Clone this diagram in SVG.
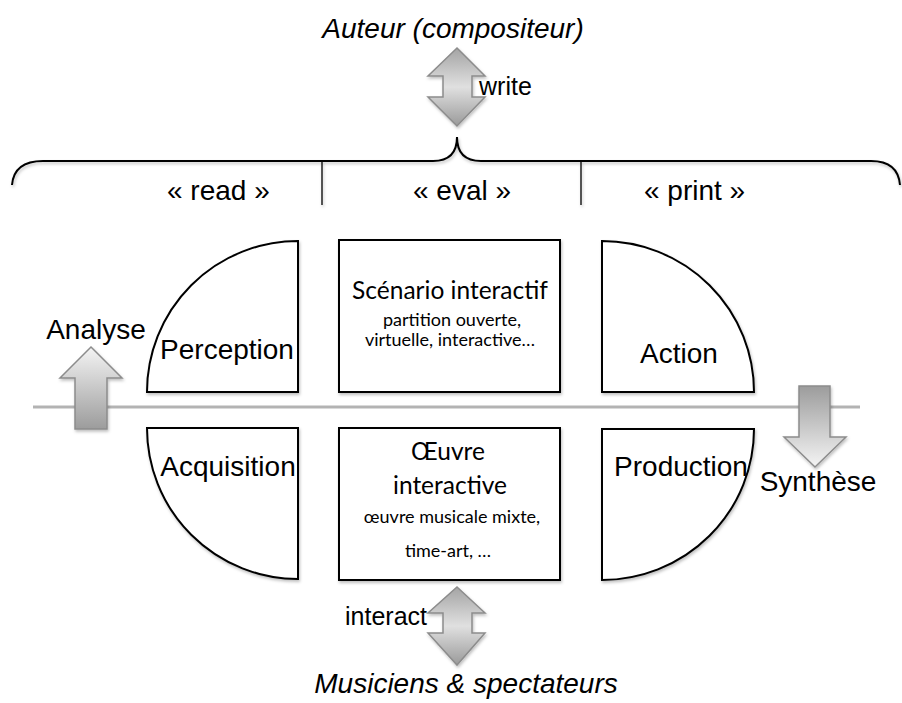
<svg xmlns="http://www.w3.org/2000/svg" width="902" height="703" viewBox="0 0 902 703">
<style>
.lbl{font-family:"Liberation Sans",Arial,sans-serif;font-size:28px;fill:#000}
.it{font-style:italic}
.sm{font-family:"Liberation Sans",Arial,sans-serif;font-size:25px;fill:#000}
.cal{font-family:Lato,"Open Sans",sans-serif;fill:#000;text-anchor:middle}
.big{font-size:24.5px}
.small{font-size:18px}
.shape{fill:#fff;stroke:#000;stroke-width:2}
.arr{stroke:#8c8c8c;stroke-width:1.5}
.brace{fill:none;stroke:#000;stroke-width:2}
</style>
<defs>
<filter id="sh" x="-10%" y="-10%" width="130%" height="130%">
<feDropShadow dx="1" dy="2" stdDeviation="1.5" flood-color="#000" flood-opacity="0.25"/>
</filter>
<linearGradient id="gUp" x1="0" y1="0" x2="0" y2="1">
<stop offset="0" stop-color="#f4f4f4"/><stop offset="1" stop-color="#9c9c9c"/>
</linearGradient>
<linearGradient id="gDown" x1="0" y1="0" x2="0" y2="1">
<stop offset="0" stop-color="#9c9c9c"/><stop offset="1" stop-color="#f4f4f4"/>
</linearGradient>
<linearGradient id="gBoth" x1="0" y1="0" x2="0" y2="1">
<stop offset="0" stop-color="#a4a4a4"/><stop offset="0.5" stop-color="#e0e0e0"/><stop offset="1" stop-color="#9a9a9a"/>
</linearGradient>
</defs>

<g id="connectors">
<line x1="33" y1="407" x2="860" y2="407" stroke="#b3b3b3" stroke-width="3"/>
<g id="brace" filter="url(#sh)">
<path class="brace" d="M12,185 Q14,161 43,161 L433,161 C450,161 457,152 457,137 C457,152 464,161 481,161 L871,161 Q898,161 900,185"/>
<line x1="322" y1="161" x2="322" y2="205" stroke="#000" stroke-width="1.3"/>
<line x1="581" y1="161" x2="581" y2="205" stroke="#000" stroke-width="1.3"/>
</g>
<path id="arrow-write" class="arr" fill="url(#gBoth)" filter="url(#sh)" d="M457,48 L485,76 L472,76 L472,97 L485,97 L457,126 L428,97 L443,97 L443,76 L428,76 Z"/>
<path id="arrow-interact" class="arr" fill="url(#gBoth)" filter="url(#sh)" d="M457,587 L485,613 L472,613 L472,633 L485,633 L457,665 L428,633 L443,633 L443,613 L428,613 Z"/>
<path id="arrow-analyse" class="arr" fill="url(#gUp)" filter="url(#sh)" d="M91,347 L122,378 L107,378 L107,429 L75,429 L75,378 L60,378 Z"/>
<path id="arrow-synthese" class="arr" fill="url(#gDown)" filter="url(#sh)" d="M799,386 L830,386 L830,437 L846,437 L815,467 L784,437 L799,437 Z"/>
</g>

<g id="auteur"><text class="lbl it" x="453" y="38" text-anchor="middle">Auteur (compositeur)</text></g>
<g id="write-label"><text class="sm" x="479" y="95">write</text></g>
<g id="read-label"><text class="lbl" x="167" y="200">« read »</text></g>
<g id="eval-label"><text class="lbl" x="413" y="200">« eval »</text></g>
<g id="print-label"><text class="lbl" x="644" y="200">« print »</text></g>

<g id="perception">
<path class="shape" filter="url(#sh)" d="M147,392 A151,151 0 0 1 298,241 L298,392 Z"/>
<text class="lbl" x="227" y="359" text-anchor="middle">Perception</text>
</g>
<g id="acquisition">
<path class="shape" filter="url(#sh)" d="M147,428 L298,428 L298,579 A151,151 0 0 1 147,428 Z"/>
<text class="lbl" x="228" y="476" text-anchor="middle">Acquisition</text>
</g>
<g id="action">
<path class="shape" filter="url(#sh)" d="M602,241 A152,151 0 0 1 754,392 L602,392 Z"/>
<text class="lbl" x="679" y="363" text-anchor="middle">Action</text>
</g>
<g id="production">
<path class="shape" filter="url(#sh)" d="M602,429 L754,429 A152,151 0 0 1 602,580 Z"/>
<text class="lbl" x="681" y="476" text-anchor="middle">Production</text>
</g>
<g id="scenario">
<rect class="shape" filter="url(#sh)" x="339" y="240" width="221" height="152"/>
<text class="cal big" x="450" y="299">Scénario interactif</text>
<text class="cal small" x="452" y="326">partition ouverte,</text>
<text class="cal small" x="450" y="346">virtuelle, interactive…</text>
</g>
<g id="oeuvre">
<rect class="shape" filter="url(#sh)" x="339" y="428" width="221" height="152"/>
<text class="cal big" x="448" y="460">Œuvre</text>
<text class="cal big" x="450" y="494">interactive</text>
<text class="cal small" x="452" y="523">œuvre musicale mixte,</text>
<text class="cal small" x="448" y="557">time-art, …</text>
</g>
<g id="analyse"><text class="lbl" x="96" y="339" text-anchor="middle">Analyse</text></g>
<g id="synthese"><text class="lbl" x="818" y="491" text-anchor="middle">Synthèse</text></g>
<g id="interact-label"><text class="sm" x="345" y="625">interact</text></g>
<g id="musiciens"><text class="lbl it" x="466" y="693" text-anchor="middle">Musiciens &amp; spectateurs</text></g>
</svg>
